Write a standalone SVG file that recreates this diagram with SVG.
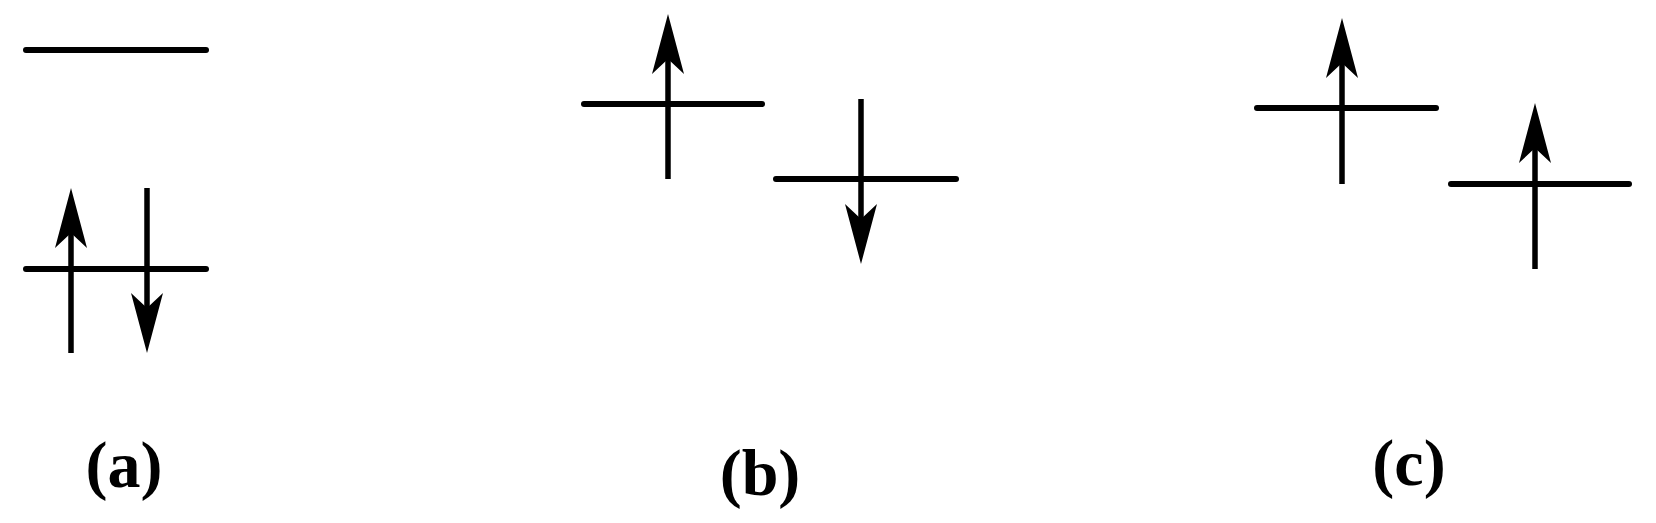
<svg xmlns="http://www.w3.org/2000/svg" width="1656" height="523" viewBox="0 0 1656 523">
<style>
.lvl{stroke:#000;stroke-width:6;stroke-linecap:round;fill:none}
.sp{stroke:#000;stroke-width:5.5;fill:none}
.hd{fill:#000}
.lbl{font-family:"Liberation Serif","Times New Roman",serif;font-size:66px;font-weight:bold;fill:#000;text-anchor:middle}
</style>
<defs>
<path id="headUp" class="hd" d="M0,0 L16,60 L0,45 L-16,60 Z"/>
<path id="headDown" class="hd" d="M0,0 L16,-60 L0,-45 L-16,-60 Z"/>
</defs>
<g id="a">
<line class="lvl" x1="26" y1="50" x2="206" y2="50"/>
<line class="lvl" x1="26" y1="269" x2="206" y2="269"/>
<line class="sp" x1="71" y1="353" x2="71" y2="230"/>
<use href="#headUp" x="71" y="188"/>
<line class="sp" x1="147" y1="188" x2="147" y2="310"/>
<use href="#headDown" x="147" y="353"/>
<text class="lbl" x="124" y="487">(a)</text>
</g>
<g id="b">
<line class="lvl" x1="584" y1="104" x2="762" y2="104"/>
<line class="sp" x1="668" y1="179" x2="668" y2="56"/>
<use href="#headUp" x="668" y="14"/>
<line class="lvl" x1="776" y1="179" x2="956" y2="179"/>
<line class="sp" x1="861" y1="99" x2="861" y2="222"/>
<use href="#headDown" x="861" y="264"/>
<text class="lbl" x="760" y="495">(b)</text>
</g>
<g id="c">
<line class="lvl" x1="1257" y1="108" x2="1436" y2="108"/>
<line class="sp" x1="1342" y1="184" x2="1342" y2="60"/>
<use href="#headUp" x="1342" y="18"/>
<line class="lvl" x1="1451" y1="184" x2="1629" y2="184"/>
<line class="sp" x1="1535" y1="269" x2="1535" y2="145"/>
<use href="#headUp" x="1535" y="103"/>
<text class="lbl" x="1409" y="485">(c)</text>
</g>
</svg>
